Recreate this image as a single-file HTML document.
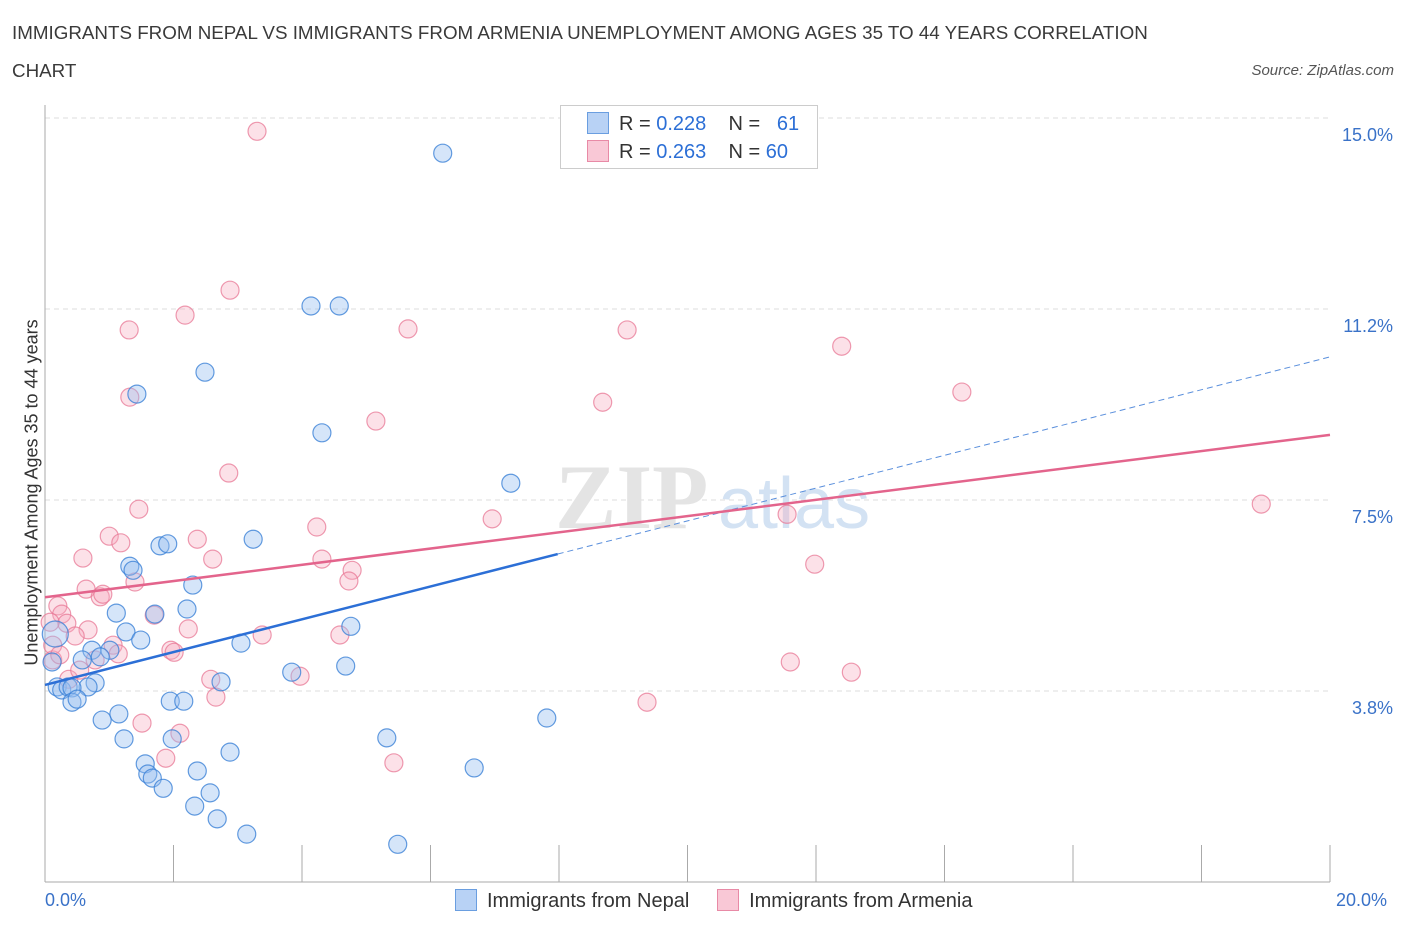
<!DOCTYPE html>
<html><head><meta charset="utf-8"><style>
body{margin:0;background:#fff;font-family:"Liberation Sans",sans-serif;}
#wrap{position:relative;width:1406px;height:930px;overflow:hidden;}
.t{position:absolute;color:#333;}
</style></head><body><div id="wrap">
<div class="t" style="left:12px;top:14px;font-size:18.8px;line-height:38px;width:1180px;color:#3a3a3a">IMMIGRANTS FROM NEPAL VS IMMIGRANTS FROM ARMENIA UNEMPLOYMENT AMONG AGES 35 TO 44 YEARS CORRELATION CHART</div>
<div class="t" style="right:12px;top:62px;font-size:15px;font-style:italic;color:#555">Source: ZipAtlas.com</div>
<svg id="svg" width="1406" height="930" style="position:absolute;left:0;top:0"></svg>
</div>
<script>
const nepalX=[6.19,4.14,4.58,2.49,1.43,4.31,7.25,3.24,1.79,1.91,1.32,1.37,2.30,2.21,1.71,1.11,4.76,1.26,1.49,3.05,1.01,0.73,0.58,0.86,0.16,0.11,4.68,3.84,2.74,0.78,0.67,0.19,0.26,0.36,0.42,0.42,0.50,1.95,2.16,7.81,0.89,1.15,1.23,1.98,2.88,5.32,1.56,1.60,1.67,2.37,6.68,1.84,2.57,2.33,2.68,3.14,5.49];
const nepalY=[14.31,11.31,11.31,10.01,9.58,8.82,7.83,6.73,6.60,6.64,6.20,6.12,5.83,5.36,5.26,5.28,5.02,4.91,4.75,4.69,4.55,4.55,4.36,4.42,4.87,4.32,4.24,4.12,3.93,3.91,3.83,3.83,3.77,3.83,3.81,3.53,3.59,3.55,3.55,3.22,3.18,3.30,2.81,2.81,2.55,2.83,2.32,2.12,2.04,2.18,2.24,1.84,1.75,1.49,1.24,0.94,0.74];
const armX=[3.30,2.88,2.18,1.31,5.65,9.06,12.40,14.27,8.68,1.32,5.15,2.86,1.46,18.93,6.96,11.55,4.23,1.00,1.18,2.37,0.59,2.61,4.31,11.98,4.78,4.73,1.40,0.64,0.86,0.90,0.20,0.26,0.34,1.70,0.67,0.47,2.23,3.38,4.59,1.06,1.96,2.01,1.14,0.78,0.12,11.60,12.55,3.97,2.58,0.37,0.54,2.66,9.37,1.51,2.10,1.88,5.43,0.12,0.08,0.23];
const armY=[14.74,11.62,11.13,10.84,10.86,10.84,10.52,9.62,9.42,9.52,9.05,8.03,7.32,7.42,7.13,7.22,6.97,6.79,6.66,6.73,6.36,6.34,6.34,6.24,6.12,5.91,5.89,5.75,5.60,5.65,5.42,5.26,5.08,5.24,4.95,4.83,4.97,4.85,4.85,4.65,4.55,4.51,4.48,4.36,4.36,4.32,4.12,4.04,3.98,3.98,4.16,3.63,3.53,3.12,2.92,2.43,2.34,4.65,5.10,4.46];
const yTicks=[3.75,7.5,11.25,15];
const yTickLabels=["3.8%","7.5%","11.2%","15.0%"];
const nepalTrend=[3.87,10.31]; const nepalSolidEnd=7.98;
const armTrend=[5.59,8.78];
const NS="http://www.w3.org/2000/svg";
const svg=document.getElementById('svg');
const X=v=>45+v*64.25, Y=v=>882-v*50.93;
function mk(t,a,p){const e=document.createElementNS(NS,t);for(const k in a)e.setAttribute(k,a[k]);(p||svg).appendChild(e);return e;}
yTicks.forEach((t,i)=>{const g=mk('line',{x1:45,x2:1330,y1:Y(t),y2:Y(t),stroke:'#ddd','stroke-dasharray':'5,4'});

const l=mk('text',{x:1393,y:Y(t)+23,'text-anchor':'end','font-size':18,fill:'#3a72c8','font-family':'Liberation Sans'});l.textContent=yTickLabels[i];
});
let ax=mk('line',{x1:45,x2:45,y1:105,y2:882,stroke:'#aaa'});
ax=mk('line',{x1:45,x2:1330,y1:882,y2:882,stroke:'#aaa'});
for(let i=0;i<=10;i++){const tk=mk('line',{x1:X(i*2),x2:X(i*2),y1:845,y2:882,stroke:'#aaa'});}
let w=mk('text',{x:555,y:528,'font-size':92,fill:'#e4e4e4','font-family':'Liberation Serif','font-weight':'bold'});w.textContent='ZIP';
w=mk('text',{x:718,y:528,'font-size':72,fill:'#d3e2f3','font-family':'Liberation Sans'});w.textContent='atlas';
function pts(xs,ys,fill,st,name,big){xs.forEach((x,i)=>{const c=mk('circle',{cx:X(x),cy:Y(ys[i]),r:(i===big)?13:9,fill:fill,stroke:st,'stroke-width':1.2});
});}
pts(armX,armY,'rgba(246,170,190,0.35)','rgba(232,120,150,0.75)','armenia',-1);
pts(nepalX,nepalY,'rgba(150,190,240,0.4)','rgba(60,130,215,0.8)','nepal',24);
const slope=(nepalTrend[1]-nepalTrend[0])/20;
let l=mk('line',{x1:X(0),y1:Y(nepalTrend[0]),x2:X(nepalSolidEnd),y2:Y(nepalTrend[0]+slope*nepalSolidEnd),stroke:'#2c6fd6','stroke-width':2.5});
l=mk('line',{x1:X(nepalSolidEnd),y1:Y(nepalTrend[0]+slope*nepalSolidEnd),x2:X(20),y2:Y(nepalTrend[1]),stroke:'#5a8fdc','stroke-width':1,'stroke-dasharray':'6,4'});
l=mk('line',{x1:X(0),y1:Y(armTrend[0]),x2:X(20),y2:Y(armTrend[1]),stroke:'#e3648c','stroke-width':2.5});
</script>
<div class="t" style="left:-178px;top:482px;width:420px;text-align:center;transform:rotate(-90deg);font-size:18px;white-space:nowrap">Unemployment Among Ages 35 to 44 years</div>
<div class="t" style="left:45px;top:890px;font-size:18px;color:#3a72c8">0.0%</div>
<div class="t" style="left:1336px;top:890px;font-size:18px;color:#3a72c8">20.0%</div>
<div style="position:absolute;left:560px;top:105px;width:256px;height:62px;border:1px solid #ccc;background:#fff;font-size:20px;color:#333">
<div style="position:absolute;left:26px;top:6px;white-space:pre"><span style="display:inline-block;width:20px;height:20px;background:#b8d2f5;border:1px solid #6a9ee0;vertical-align:-4px;margin-right:10px"></span>R = <span style="color:#2c6fd6">0.228</span>    N =   <span style="color:#2c6fd6">61</span></div>
<div style="position:absolute;left:26px;top:34px;white-space:pre"><span style="display:inline-block;width:20px;height:20px;background:#f9c8d6;border:1px solid #e88aa6;vertical-align:-4px;margin-right:10px"></span>R = <span style="color:#2c6fd6">0.263</span>    N = <span style="color:#2c6fd6">60</span></div>
</div>
<div style="position:absolute;left:455px;top:889px;font-size:20px;color:#333;white-space:pre"><span><span style="display:inline-block;width:20px;height:20px;background:#b8d2f5;border:1px solid #6a9ee0;vertical-align:-4px;margin-right:10px"></span>Immigrants from Nepal</span>     <span><span style="display:inline-block;width:20px;height:20px;background:#f9c8d6;border:1px solid #e88aa6;vertical-align:-4px;margin-right:10px"></span>Immigrants from Armenia</span></div>
</body></html>
